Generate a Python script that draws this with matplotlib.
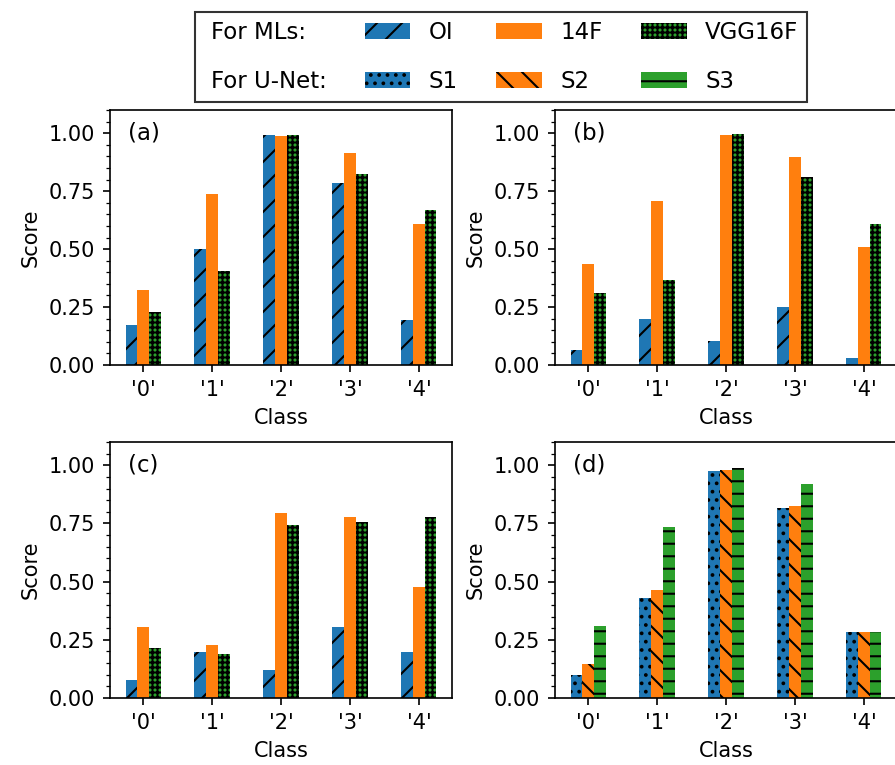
import matplotlib
matplotlib.use('Agg')
import matplotlib.pyplot as plt
import numpy as np
from matplotlib.patches import Patch
from matplotlib.ticker import MultipleLocator, FormatStrFormatter

classes = ["'0'", "'1'", "'2'", "'3'", "'4'"]
ml_names = ['OI', '14F', 'VGG16F']
unet_names = ['S1', 'S2', 'S3']

# panel (a)
a_OI = [0.172, 0.499, 0.994, 0.787, 0.195]
a_14F = [0.322, 0.738, 0.987, 0.913, 0.609]
a_VGG = [0.228, 0.407, 0.994, 0.825, 0.670]
# panel (b)
b_OI = [0.064, 0.199, 0.102, 0.249, 0.030]
b_14F = [0.434, 0.709, 0.991, 0.898, 0.509]
b_VGG = [0.311, 0.368, 0.996, 0.811, 0.609]
# panel (c)
c_OI = [0.079, 0.199, 0.119, 0.307, 0.199]
c_14F = [0.307, 0.227, 0.797, 0.776, 0.479]
c_VGG = [0.213, 0.187, 0.743, 0.757, 0.776]
# panel (d)
d_S1 = [0.097, 0.431, 0.976, 0.818, 0.285]
d_S2 = [0.146, 0.463, 0.978, 0.824, 0.285]
d_S3 = [0.308, 0.735, 0.987, 0.920, 0.285]

colors = ['#1f77b4', '#ff7f0e', '#2ca02c']
ml_hatches = ['//', None, '+++++']
unet_hatches = ['...', '\\\\', '--']

plt.rcParams['hatch.linewidth'] = 1.0
plt.rcParams['font.size'] = 10

fig = plt.figure(figsize=(895 / 150, 765 / 150), dpi=150)

W = 342 / 895
H = 255 / 765
positions = {
    'a': [110 / 895, 1 - 365 / 765, W, H],
    'b': [555 / 895, 1 - 365 / 765, W, H],
    'c': [110 / 895, 1 - 698 / 765, W, 256 / 765],
    'd': [555 / 895, 1 - 698 / 765, W, 256 / 765],
}
panels = {
    'a': ([a_OI, a_14F, a_VGG], ml_hatches),
    'b': ([b_OI, b_14F, b_VGG], ml_hatches),
    'c': ([c_OI, c_14F, c_VGG], ml_hatches),
    'd': ([d_S1, d_S2, d_S3], unet_hatches),
}

x = np.arange(len(classes))
w = 0.17
ml_handles = []
unet_handles = []
for key, (series, hatches) in panels.items():
    ax = fig.add_axes(positions[key])
    for i, (vals, col, h) in enumerate(zip(series, colors, hatches)):
        bars = ax.bar(x + (i - 1) * w, vals, width=w, color=col, hatch=h,
                      edgecolor='k', linewidth=0)
        if key == 'a':
            ml_handles.append(bars)
        if key == 'd':
            unet_handles.append(bars)
    ax.set_ylim(0, 1.1)
    ax.set_xticks(x)
    ax.set_xticklabels(classes)
    ax.yaxis.set_major_locator(MultipleLocator(0.25))
    ax.yaxis.set_minor_locator(MultipleLocator(0.05))
    ax.yaxis.set_major_formatter(FormatStrFormatter('%.2f'))
    ax.set_xlabel('Class')
    ax.set_ylabel('Score')
    ax.text(0.053, 0.91, '(%s)' % key, transform=ax.transAxes, fontsize=11,
            va='center', ha='left')

blank1 = Patch(facecolor='none', edgecolor='none', linewidth=0)
blank2 = Patch(facecolor='none', edgecolor='none', linewidth=0)
handles = [blank1, blank2,
           ml_handles[0], unet_handles[0],
           ml_handles[1], unet_handles[1],
           ml_handles[2], unet_handles[2]]
labels = ['For MLs:', 'For U-Net:',
          ml_names[0], unet_names[0],
          ml_names[1], unet_names[1],
          ml_names[2], unet_names[2]]
leg = fig.legend(handles, labels, ncol=4, loc='upper center',
                 bbox_to_anchor=(501 / 895, 1 - 12 / 765), borderaxespad=0,
                 fancybox=False, edgecolor='k', framealpha=0.8,
                 labelspacing=1.12, borderpad=0.4, columnspacing=1.67,
                 fontsize=11)
leg.get_frame().set_linewidth(1.0)
# text-only first column: tiny blank handle, no gap before the label
first_col = leg._legend_handle_box.get_children()[0]
for hp in first_col.get_children():
    da, ta = hp.get_children()
    da.width = 3.3
    hp.sep = 0

fig.savefig('out.png', dpi=150)
